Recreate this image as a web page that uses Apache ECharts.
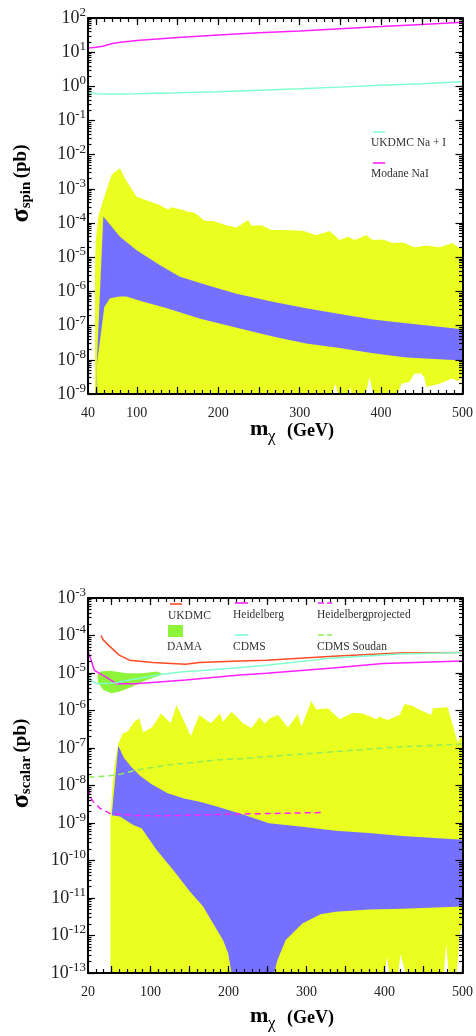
<!DOCTYPE html>
<html><head><meta charset="utf-8">
<script src="https://cdn.jsdelivr.net/npm/echarts@6/dist/echarts.min.js"></script>
<style>html,body{margin:0;padding:0;background:#fff}#c{width:476px;height:1036px}</style>
</head><body><div id="c"></div>
<script>
// ---------- data ----------
const spinXLabels = [40,100,200,300,400,500];
const scalarXLabels = [20,100,200,300,400,500];
const xMajorTicks = [50,100,150,200,250,300,350,400,450,500];
const spinYExps = [-9,-8,-7,-6,-5,-4,-3,-2,-1,0,1,2];
const scalarYExps = [-13,-12,-11,-10,-9,-8,-7,-6,-5,-4,-3];

// spin-dependent panel
const spinYellowUpper = [[48.6,1e-9],[48.6,4e-6],[49.5,3.2e-5],[52.6,1.55e-4],[58.8,4.8e-4],[69,2.6e-3],[79.3,4.0e-3],[85.4,2.0e-3],[99.7,5.9e-4],[128,3.4e-4],[138.5,2.5e-4],[142.7,2.9e-4],[157,2.4e-4],[161,2.2e-4],[171,2.0e-4],[183.5,1.15e-4],[193.7,1.15e-4],[210,8.7e-5],[222.4,7.4e-5],[236.6,1.23e-4],[240.8,8.3e-5],[253,8.7e-5],[265,6.3e-5],[279.6,6.3e-5],[304,6.0e-5],[320.5,4.4e-5],[336.9,5.9e-5],[349,3.2e-5],[359.3,4.0e-5],[367.5,3.2e-5],[381.9,4.4e-5],[390,3.2e-5],[402,3.3e-5],[414.5,2.6e-5],[426.8,2.7e-5],[441,1.95e-5],[455.5,2.2e-5],[471.8,1.95e-5],[488,2.6e-5],[496.3,1.8e-5],[500,2.0e-5]];
const spinBlueUpper = [[50.7,6.6e-9],[58.8,1.55e-4],[79.3,4.0e-5],[99.7,1.6e-5],[128,5.9e-6],[152.9,2.7e-6],[185.6,1.55e-6],[222.4,8.5e-7],[267,5.0e-7],[308,3.2e-7],[349,2.2e-7],[390,1.5e-7],[431,1.17e-7],[500,7.9e-8]];
const spinBlueLower = [[50.7,6.6e-9],[51.5,6.6e-9],[60,3.5e-7],[67,6.3e-7],[79,7.1e-7],[87,7.1e-7],[108,5.0e-7],[137,3.2e-7],[178,1.6e-7],[226.5,8.3e-8],[267,4.8e-8],[308,3.0e-8],[349,2.2e-8],[390,1.55e-8],[431,1.17e-8],[500,9.5e-9]];
const spinWhiteGaps = [[340,1e-9],[344,2.0e-9],[347,1e-9],[360,1e-9],[362,1.6e-9],[364,1e-9],[381,1e-9],[386,3.2e-9],[390,1e-9],[420.7,1e-9],[424.8,2.0e-9],[435,2.3e-9],[441,4.0e-9],[449,4.0e-9],[453,3.2e-9],[455.5,1.6e-9],[471.8,2.0e-9],[488,2.9e-9],[494,2.3e-9],[498,3.2e-9],[500,3.2e-9]];
const ukdmcSpin = [[40,0.66],[50,0.61],[60,0.6],[80,0.6],[100,0.61],[150,0.65],[200,0.7],[250,0.77],[300,0.85],[350,0.95],[400,1.07],[450,1.2],[500,1.37]];
const modaneSpin = [[40,13.2],[50,14],[58,15],[70,18],[80,19.5],[100,22],[150,27],[200,32],[250,37],[300,42],[361,50],[400,56],[450,65],[500,75]];

// scalar panel
const damaUpper = [[32.4,8.9e-6],[35.4,1.1e-5],[48,1.15e-5],[69.5,9.8e-6],[90.8,9.8e-6],[108,1.1e-5],[114,9.8e-6],[115,8.9e-6]];
const damaLower = [[30,8.9e-6],[32.4,8.9e-6],[33.2,5.4e-6],[39.6,3.5e-6],[50.3,2.9e-6],[61,3.2e-6],[78,4.4e-6],[95,6.5e-6],[114,8.9e-6],[115,8.9e-6],[118,8.9e-6]];
const scalarYellowUpper = [[48.8,1e-13],[48.8,1.5e-9],[51.6,1.15e-8],[55,4.8e-8],[58.8,1.3e-7],[64.4,2.45e-7],[70.8,2.75e-7],[79.3,5.0e-7],[85.7,6.2e-7],[90.8,2.6e-7],[102.8,3.7e-7],[113.4,8.3e-7],[126.2,4.6e-7],[133.5,1.4e-6],[151.8,2.1e-7],[162.5,7.6e-7],[177.4,4.6e-7],[189,8.3e-7],[193,5.0e-7],[204,9.3e-7],[218.8,4.6e-7],[229.5,3.4e-7],[240,6.6e-7],[246.6,4.4e-7],[253,6.2e-7],[263.6,7.6e-7],[276.4,3.5e-7],[289,8.1e-7],[293.5,3.7e-7],[306.3,1.8e-6],[312.7,1.07e-6],[327.6,1.15e-6],[342.6,5.8e-7],[359.6,8.7e-7],[372.4,8.3e-7],[389.5,5.8e-7],[393.8,6.8e-7],[404,5.6e-7],[419.4,7.6e-7],[425.8,1.48e-6],[436.4,1.32e-6],[447,1.0e-6],[460,7.6e-7],[462,1.15e-6],[481,1.23e-6],[494,1.35e-7],[500,2.45e-7]];
const scalarBlueUpper = [[50.7,1.86e-9],[58.8,1.15e-7],[66,5.5e-8],[75,3.2e-8],[87,1.8e-8],[101,1.1e-8],[122,6.2e-9],[143,4.5e-9],[163,3.7e-9],[184,2.8e-9],[214.6,1.8e-9],[252,9.8e-10],[294.8,7.9e-10],[337.4,6.2e-10],[380,5.4e-10],[422.8,4.5e-10],[500,3.6e-10]];
const scalarBlueLower = [[49.4,1.6e-9],[61,1.48e-9],[78,8.9e-10],[88.7,7.2e-10],[108,1.9e-10],[129.2,5.6e-11],[150.6,1.48e-11],[167.6,5.9e-12],[180.4,2.1e-12],[193,7.6e-13],[199.6,3.4e-13],[204,1e-13],[258.5,1e-13],[262.8,2.2e-13],[273.4,7.6e-13],[294.8,2.1e-12],[318,3.7e-12],[337.4,4.3e-12],[380,4.9e-12],[422.8,5.2e-12],[500,5.9e-12]];
const scalarWhiteGaps = [[400,1e-13],[403.5,2.7e-13],[405.6,1e-13],[417.7,1e-13],[420.5,3.2e-13],[423,3.2e-13],[427,1e-13],[476,1e-13],[479,5.9e-13],[482.5,1e-13],[492.5,1e-13],[497,1.2e-12],[499.5,1.7e-12],[500,1.7e-12]];
const ukdmcScalar = [[36.6,1.0e-4],[39.6,7.6e-5],[50.3,4.6e-5],[60,3.0e-5],[73,2.2e-5],[103,1.9e-5],[145,1.7e-5],[163,1.9e-5],[214.6,2.1e-5],[248.7,2.2e-5],[334,2.8e-5],[419,3.4e-5],[500,3.5e-5]];
const heidelberg = [[20.5,3.6e-5],[24,2.2e-5],[28,1.2e-5],[34.5,9.8e-6],[43,7.9e-6],[56,5.2e-6],[81,5.2e-6],[145,6.5e-6],[214.6,8.9e-6],[248.7,9.8e-6],[334,1.35e-5],[398,1.8e-5],[500,2.1e-5]];
const cdms = [[20.5,8.2e-6],[25,6.2e-6],[31.1,5.2e-6],[56,5.4e-6],[69.5,6.3e-6],[86.6,7.2e-6],[108,8.9e-6],[145,1.1e-5],[163,1.15e-5],[214.6,1.4e-5],[248.7,1.6e-5],[334,2.5e-5],[419,3.2e-5],[500,3.5e-5]];
const heidProjected = [[20.5,8.5e-9],[23.8,4.6e-9],[26.8,3.7e-9],[35.4,2.45e-9],[48.2,1.8e-9],[78,1.6e-9],[108,1.55e-9],[142,1.6e-9],[214.6,1.74e-9],[260,1.8e-9],[320,1.9e-9]];
const cdmsSoudan = [[20.5,1.66e-8],[43,1.78e-8],[56.7,1.9e-8],[81.4,2.57e-8],[124,3.55e-8],[163,4.3e-8],[184,4.8e-8],[214.6,5.2e-8],[248.7,5.9e-8],[334,7.9e-8],[419,1.07e-7],[496,1.26e-7],[500,1.27e-7]];

// ---------- styling / layout ----------
const FONT = "'Liberation Serif','Times New Roman',serif";
const YELLOW = '#eaff20', BLUE = '#7570ff', WHITE = '#ffffff';
const AQUA = '#80ffcc', MAGENTA = '#ff20ff', RED = '#ff4a26', GREEN = '#8ef43a', LGREEN = '#90ee5a';

function minorExps(exps){
  const out = [];
  for (let i = 0; i < exps.length - 1; i++) for (let k = 2; k <= 9; k++) out.push(exps[i] + Math.log10(k));
  return out;
}
const tickLine = {color:'#000', width:1.2};
function xAxes(grid, min, max, labels){
  const base = {type:'value', gridIndex:grid, min:min, max:max, z:10, splitLine:{show:false}};
  return [
    Object.assign({}, base, {position:'bottom', interval:10,
      axisLine:{show:true, onZero:false, lineStyle:{color:'#000', width:2}},
      axisTick:{show:true, inside:true, length:4, lineStyle:tickLine},
      axisLabel:{show:true, margin:12, fontSize:14, fontFamily:FONT, color:'#222',
        formatter:function(v){ const r = Math.round(v); return labels.indexOf(r) >= 0 ? String(r) : ''; }}}),
    Object.assign({}, base, {position:'bottom',
      axisLine:{show:false, onZero:false},
      axisTick:{show:true, inside:true, length:7, customValues:xMajorTicks, lineStyle:tickLine},
      axisLabel:{show:false}}),
    Object.assign({}, base, {position:'top', interval:10,
      axisLine:{show:true, onZero:false, lineStyle:{color:'#000', width:2}},
      axisTick:{show:true, inside:true, length:4, lineStyle:tickLine},
      axisLabel:{show:false}}),
    Object.assign({}, base, {position:'top',
      axisLine:{show:false, onZero:false},
      axisTick:{show:true, inside:true, length:7, customValues:xMajorTicks, lineStyle:tickLine},
      axisLabel:{show:false}})
  ];
}
function yAxes(grid, exps){
  const lo = exps[0], hi = exps[exps.length-1];
  const base = {type:'value', gridIndex:grid, min:lo, max:hi, z:10, splitLine:{show:false}};
  const minors = minorExps(exps);
  return [
    {type:'log', logBase:10, gridIndex:grid, min:Math.pow(10,lo), max:Math.pow(10,hi), position:'left', z:10,
      axisLine:{show:true, onZero:false, lineStyle:{color:'#000', width:2}},
      axisTick:{show:false}, axisLabel:{show:false}, splitLine:{show:false}},
    Object.assign({}, base, {position:'left', interval:1,
      axisLine:{show:false, onZero:false},
      axisTick:{show:true, inside:true, length:7, lineStyle:tickLine},
      axisLabel:{show:true, margin:2,
        formatter:function(v){ return '{b|10}{s|' + Math.round(v) + '}'; },
        rich:{ b:{fontSize:18, fontFamily:FONT, color:'#222', lineHeight:24, verticalAlign:'middle'},
               s:{fontSize:13, fontFamily:FONT, color:'#222', lineHeight:12, verticalAlign:'top'} }}}),
    Object.assign({}, base, {position:'left',
      axisLine:{show:false, onZero:false},
      axisTick:{show:true, inside:true, length:3.5, customValues:minors, lineStyle:tickLine},
      axisLabel:{show:false}}),
    Object.assign({}, base, {position:'right', interval:1,
      axisLine:{show:true, onZero:false, lineStyle:{color:'#000', width:2}},
      axisTick:{show:true, inside:true, length:7, lineStyle:tickLine},
      axisLabel:{show:false}}),
    Object.assign({}, base, {position:'right',
      axisLine:{show:false, onZero:false},
      axisTick:{show:true, inside:true, length:3.5, customValues:minors, lineStyle:tickLine},
      axisLabel:{show:false}})
  ];
}
function area(data, color, xi, yi){
  return {type:'line', data:data, xAxisIndex:xi, yAxisIndex:yi, symbol:'none', showSymbol:false, silent:true,
    lineStyle:{width:0, opacity:0}, areaStyle:{color:color, opacity:1, origin:'start'}};
}
function curve(data, color, xi, yi, dashed){
  return {type:'line', data:data, xAxisIndex:xi, yAxisIndex:yi, symbol:'none', showSymbol:false, silent:true,
    lineStyle:{color:color, width:1.5, type: dashed ? [6,4] : 'solid'}};
}

const series = [
  area(spinYellowUpper, YELLOW, 0, 0),
  area(spinBlueUpper, BLUE, 0, 0),
  area(spinBlueLower, YELLOW, 0, 0),
  area(spinWhiteGaps, WHITE, 0, 0),
  curve(ukdmcSpin, AQUA, 0, 0),
  curve(modaneSpin, MAGENTA, 0, 0),

  area(damaUpper, GREEN, 4, 5),
  area(damaLower, WHITE, 4, 5),
  area(scalarYellowUpper, YELLOW, 4, 5),
  area(scalarBlueUpper, BLUE, 4, 5),
  area(scalarBlueLower, YELLOW, 4, 5),
  area(scalarWhiteGaps, WHITE, 4, 5),
  curve(ukdmcScalar, RED, 4, 5),
  curve(heidelberg, MAGENTA, 4, 5),
  curve(cdms, AQUA, 4, 5),
  curve(heidProjected, MAGENTA, 4, 5, true),
  curve(cdmsSoudan, LGREEN, 4, 5, true)
];

const legFont = '11.5px ' + FONT;
function legText(x, y, t){ return {type:'text', x:x, y:y, silent:true, style:{text:t, font:legFont, fill:'#333', align:'left', verticalAlign:'middle'}}; }
function legLine(x1, x2, y, c, dashed){ return {type:'line', silent:true, shape:{x1:x1, y1:y, x2:x2, y2:y}, style:{stroke:c, lineWidth:1.6, lineDash: dashed ? [6,3] : null}}; }
function yTitle(y, sub){
  return {type:'text', x:21, y:y, rotation:Math.PI/2, silent:true,
    style:{text:'{s|σ}{u|' + sub + '} {p|(pb)}', align:'center', verticalAlign:'middle',
      rich:{ s:{fontSize:26, fontWeight:'bold', fontFamily:FONT, fill:'#000', lineHeight:26, verticalAlign:'middle'},
             u:{fontSize:15, fontWeight:'bold', fontFamily:FONT, fill:'#000', lineHeight:15, verticalAlign:'bottom'},
             p:{fontSize:19, fontWeight:'bold', fontFamily:FONT, fill:'#000', lineHeight:26, verticalAlign:'middle'} }}};
}
function xTitle(dy){
  return [
    {type:'text', x:250, y:429+dy, silent:true, style:{text:'m', font:'bold 22px ' + FONT, fill:'#000', align:'left', verticalAlign:'middle'}},
    {type:'text', x:268, y:437+dy, silent:true, style:{text:'χ', font:'17px ' + FONT, fill:'#000', align:'left', verticalAlign:'middle'}},
    {type:'text', x:287, y:431.5+dy, silent:true, style:{text:'(GeV)', font:'bold 18px ' + FONT, fill:'#000', align:'left', verticalAlign:'middle'}}
  ];
}

const graphic = [].concat(
  [legLine(373, 385, 132, AQUA), legText(371, 142.5, 'UKDMC Na + I'),
   legLine(373, 385, 163, MAGENTA), legText(371, 174, 'Modane NaI'),
   legLine(170, 182, 604, RED), legText(168, 615.5, 'UKDMC'),
   {type:'rect', silent:true, shape:{x:168, y:625, width:15, height:12}, style:{fill:GREEN}},
   legText(167, 647, 'DAMA'),
   legLine(235, 248, 603, MAGENTA), legText(233, 614.5, 'Heidelberg'),
   legLine(235, 248, 635, AQUA), legText(233, 646.5, 'CDMS'),
   legLine(318, 332, 603, MAGENTA, true), legText(317, 614.5, 'Heidelbergprojected'),
   legLine(318, 332, 635, LGREEN, true), legText(317, 646.5, 'CDMS Soudan'),
   yTitle(183.5, 'spin'), yTitle(763.5, 'scalar')],
  xTitle(0), xTitle(587)
);

const chart = echarts.init(document.getElementById('c'), null, {renderer:'canvas'});
chart.setOption({
  animation:false,
  backgroundColor:'#fff',
  grid:[{left:88, top:18, width:375, height:376}, {left:88, top:598, width:375, height:375}],
  xAxis: xAxes(0, 40, 500, spinXLabels).concat(xAxes(1, 20, 500, scalarXLabels)),
  yAxis: yAxes(0, spinYExps).concat(yAxes(1, scalarYExps)),
  series: series,
  graphic: graphic
});
</script></body></html>
